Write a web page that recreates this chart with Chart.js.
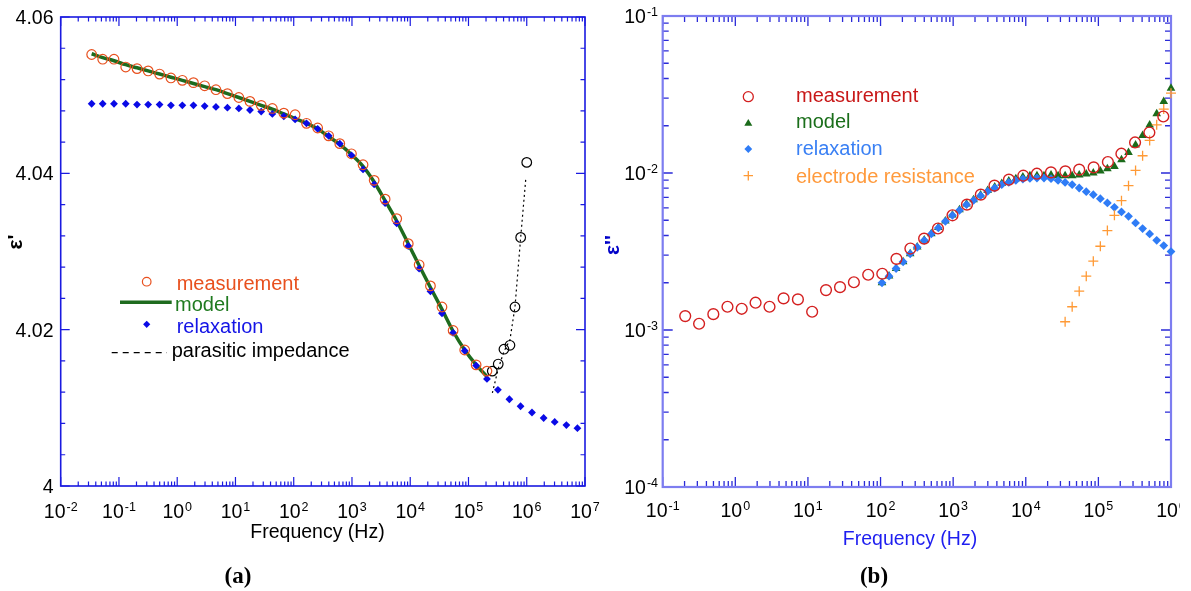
<!DOCTYPE html>
<html>
<head>
<meta charset="utf-8">
<script src="https://cdn.jsdelivr.net/npm/chart.js@4.4.1/dist/chart.umd.min.js"></script>
<style>
html, body { margin: 0; padding: 0; background: #fff; }
#wrap { position: relative; width: 1191px; height: 591px; overflow: hidden; }
.panel { position: absolute; top: 0; height: 591px; }
</style>
</head>
<body>
<div id="wrap">
  <div class="panel" style="left:0;width:620px"><canvas id="chartA"></canvas></div>
  <div class="panel" style="left:595px;width:585px"><canvas id="chartB"></canvas></div>
</div>
<script>
// measured frequencies (Hz), shared by both panels
const freqMeas = [0.0340, 0.0526, 0.0822, 0.1306, 0.2042, 0.317, 0.498, 0.780, 1.225, 1.901,
  2.958, 4.624, 7.278, 11.43, 17.74, 27.67, 42.95, 67.61, 105.7, 165.6,
  257.6, 398.1, 618.0, 979.5, 1549, 2404, 3707, 5861, 9247, 14220,
  22230, 35080, 54450, 86100, 135200, 207500, 319900, 503500, 783400];
const freqRelaxExtra = [1.23e6, 1.95e6, 3.02e6, 4.79e6, 7.41e6];

// (a) real part
const epsMeasA = [4.0552, 4.0546, 4.0546, 4.0536, 4.0534, 4.0531, 4.0527, 4.0522, 4.0519, 4.0516,
  4.0512, 4.0507, 4.0502, 4.0497, 4.0492, 4.0487, 4.0483, 4.0477, 4.0475, 4.0464,
  4.0458, 4.0448, 4.0438, 4.0425, 4.0411, 4.0391, 4.0367, 4.0342, 4.0310, 4.0283,
  4.0256, 4.0229, 4.0199, 4.0174, 4.0155, 4.0147];
const epsModelA = [4.0553, 4.0548, 4.0544, 4.0539, 4.0535, 4.0531, 4.0527, 4.0523, 4.0519, 4.0515,
  4.0511, 4.0507, 4.0502, 4.0497, 4.0492, 4.0487, 4.0482, 4.0476, 4.0470, 4.0464,
  4.0457, 4.0447, 4.0437, 4.0424, 4.0409, 4.0389, 4.0365, 4.0339, 4.0310, 4.0282,
  4.0254, 4.0226, 4.0198, 4.0174, 4.0155, 4.0140];
const epsRelaxA = [4.0489, 4.0489, 4.0489, 4.0489, 4.0488, 4.0488, 4.0488, 4.0487, 4.0487, 4.0487,
  4.0486, 4.0485, 4.0484, 4.0483, 4.0481, 4.0479, 4.0476, 4.0473, 4.0469, 4.0464,
  4.0457, 4.0448, 4.0438, 4.0423, 4.0405, 4.0386, 4.0362, 4.0336, 4.0307, 4.0278,
  4.0249, 4.0221, 4.0196, 4.0173, 4.0154, 4.0137, 4.0123, 4.0111, 4.0102, 4.0094,
  4.0087, 4.0082, 4.0078, 4.0074];
const freqPara = [2.56e5, 3.24e5, 4.06e5, 5.15e5, 6.28e5, 7.87e5, 1.0e6];
const epsParaMeas = [4.0147, 4.0156, 4.0175, 4.0180, 4.0229, 4.0318, 4.0414];
const freqParaLine = [2.57e5, 3.24e5, 4.06e5, 5.15e5, 6.28e5, 7.87e5, 9.6e5];
const epsParaLine = [4.0119, 4.0150, 4.0172, 4.0187, 4.0229, 4.0318, 4.0392];

// (b) imaginary part
const lossMeasB = [0.001226, 0.001096, 0.001262, 0.001406, 0.001365, 0.001492, 0.001406, 0.001589, 0.001566, 0.001307,
  0.001795, 0.001875, 0.002015, 0.002248, 0.002281, 0.002839, 0.003302, 0.003822, 0.004432, 0.005377,
  0.006288, 0.007278, 0.008304, 0.009066, 0.009612, 0.009898, 0.01009, 0.01024, 0.01050, 0.01085,
  0.01175, 0.01327, 0.01565, 0.01811, 0.02290];
const freqModelB = [104.7, 130.9, 163.7, 204.6, 255.9, 319.9, 399.9, 500.0, 625.2, 781.6,
  977.2, 1222, 1528, 1910, 2388, 2985, 3733, 4667, 5834, 7295,
  9120, 11400, 14260, 17820, 22280, 27860, 34830, 43550, 54450, 68080,
  85110, 106400, 133000, 166300, 208000, 260000, 325100, 406400, 508200, 635300,
  794300, 1.0e6];
const lossModelB = [0.002000, 0.002205, 0.002468, 0.002723, 0.003062, 0.003374, 0.003739, 0.004110, 0.004490, 0.004950,
  0.005410, 0.005826, 0.006340, 0.006760, 0.007250, 0.007735, 0.008145, 0.008570, 0.008890, 0.009190,
  0.009430, 0.009612, 0.009612, 0.009612, 0.009711, 0.009612, 0.009612, 0.009612, 0.009711, 0.009854,
  0.01000, 0.01030, 0.01065, 0.01101, 0.01215, 0.01352, 0.01507, 0.01734, 0.02019, 0.02382,
  0.02851, 0.03470];
const lossRelaxB = [0.001998, 0.002202, 0.002464, 0.002718, 0.003055, 0.003365, 0.003727, 0.004095, 0.004470, 0.004924,
  0.005377, 0.005784, 0.006288, 0.006695, 0.007171, 0.007638, 0.008028, 0.008426, 0.008715, 0.008974,
  0.009160, 0.009240, 0.009293, 0.009293, 0.009200, 0.008974, 0.008715, 0.008426, 0.008028, 0.007604,
  0.007278, 0.006866, 0.006447, 0.006043, 0.005649, 0.005298, 0.004810, 0.004424, 0.004095, 0.003727,
  0.003449, 0.003160];
const lossElecB = [0.001129, 0.001406, 0.001767, 0.002202, 0.002742, 0.003415, 0.004297, 0.005377, 0.006666, 0.008303,
  0.01039, 0.01288, 0.01612, 0.02028, 0.02552, 0.03226];

// tick labels
const xExpA = [-2, -1, 0, 1, 2, 3, 4, 5, 6, 7];
const yTicksA = [4, 4.02, 4.04, 4.06];
const xExpB = [-1, 0, 1, 2, 3, 4, 5, 6];
const yExpB = [-4, -3, -2, -1];

const FONT = '"Liberation Sans", Arial, sans-serif';
const SERIF = '"Liberation Serif", "Times New Roman", serif';
const OXB = 595; // left edge of panel (b) on the page

function pts(xs, ys) {
  return ys.map((y, i) => ({ x: xs[i], y: y }));
}

function logMinor(e0, e1) {
  const out = [];
  for (let e = e0; e < e1; e++) for (let k = 2; k <= 9; k++) out.push(k * Math.pow(10, e));
  return out;
}

function drawFrame(chart, cfg) {
  const { ctx, chartArea: a } = chart;
  const sx = chart.scales.x, sy = chart.scales.y;
  ctx.save();
  ctx.strokeStyle = cfg.tickColor;
  ctx.lineWidth = cfg.tickWidth;
  ctx.beginPath();
  const tx = (v, len) => {
    const p = sx.getPixelForValue(v);
    ctx.moveTo(p, a.bottom); ctx.lineTo(p, a.bottom - len);
    ctx.moveTo(p, a.top); ctx.lineTo(p, a.top + len);
  };
  const ty = (v, len) => {
    const p = sy.getPixelForValue(v);
    ctx.moveTo(a.left, p); ctx.lineTo(a.left + len, p);
    ctx.moveTo(a.right, p); ctx.lineTo(a.right - len, p);
  };
  cfg.xMajor.forEach(v => tx(v, cfg.major));
  cfg.xMinor.forEach(v => tx(v, cfg.minor));
  cfg.yMajor.forEach(v => ty(v, cfg.major));
  cfg.yMinor.forEach(v => ty(v, cfg.minor));
  ctx.stroke();
  ctx.strokeStyle = cfg.axisColor;
  ctx.lineWidth = cfg.axisWidth;
  ctx.strokeRect(a.left, a.top, a.right - a.left, a.bottom - a.top);
  ctx.restore();
}

// "10" with a raised exponent
function supLabel(ctx, exp, x, baseY, align) {
  ctx.font = '19.5px ' + FONT;
  const wb = ctx.measureText('10').width;
  ctx.font = '12.5px ' + FONT;
  const we = ctx.measureText(String(exp)).width;
  const x0 = align === 'right' ? x - wb - we - 1 : x - (wb + we + 1) / 2;
  ctx.textAlign = 'left';
  ctx.textBaseline = 'alphabetic';
  ctx.font = '19.5px ' + FONT;
  ctx.fillText('10', x0, baseY);
  ctx.font = '12.5px ' + FONT;
  ctx.fillText(String(exp), x0 + wb + 1, baseY - 7.5);
}

function marker(ctx, style, x, y, r, color, lw) {
  ctx.save();
  ctx.strokeStyle = color; ctx.fillStyle = color; ctx.lineWidth = lw || 1.2;
  ctx.beginPath();
  if (style === 'circle') { ctx.arc(x, y, r, 0, Math.PI * 2); ctx.stroke(); }
  else if (style === 'diamond') { ctx.moveTo(x, y - r); ctx.lineTo(x + r, y); ctx.lineTo(x, y + r); ctx.lineTo(x - r, y); ctx.closePath(); ctx.fill(); }
  else if (style === 'triangle') { ctx.moveTo(x, y - r); ctx.lineTo(x + r * 0.87, y + r * 0.5); ctx.lineTo(x - r * 0.87, y + r * 0.5); ctx.closePath(); ctx.fill(); }
  else if (style === 'plus') { ctx.moveTo(x - r, y); ctx.lineTo(x + r, y); ctx.moveTo(x, y - r); ctx.lineTo(x, y + r); ctx.stroke(); }
  ctx.restore();
}

function yMinorA() {
  const out = [];
  for (let i = 1; i < 15; i++) if (i % 5 !== 0) out.push(4 + i * 0.004);
  return out;
}

const framePluginA = {
  id: 'frameA',
  beforeDatasetsDraw(chart) {
    drawFrame(chart, {
      tickColor: '#1a1ae0', tickWidth: 1.2, axisColor: '#1a1ae0', axisWidth: 1.6,
      major: 9, minor: 4.5,
      xMajor: xExpA.map(e => Math.pow(10, e)), xMinor: logMinor(-2, 7),
      yMajor: yTicksA, yMinor: yMinorA()
    });
  },
  afterDraw(chart) {
    const ctx = chart.ctx, sx = chart.scales.x, sy = chart.scales.y;
    ctx.save();
    ctx.fillStyle = '#000';
    xExpA.forEach(e => supLabel(ctx, e, sx.getPixelForValue(Math.pow(10, e)), 518, 'center'));
    ctx.font = '19.5px ' + FONT;
    ctx.textAlign = 'right';
    ctx.textBaseline = 'alphabetic';
    yTicksA.forEach(v => ctx.fillText(v === 4 ? '4' : v.toFixed(2), 53.5, sy.getPixelForValue(v) + 7));
    ctx.textAlign = 'center';
    ctx.fillText('Frequency (Hz)', 317.5, 538);
    ctx.font = 'bold 23px ' + SERIF;
    ctx.textBaseline = 'middle';
    ctx.fillText('(a)', 238, 577);
    ctx.save();
    ctx.translate(16, 242);
    ctx.rotate(-Math.PI / 2);
    ctx.font = 'bold 21px ' + FONT;
    ctx.fillText("\u03b5'", 0, 0);
    ctx.restore();
    // legend
    ctx.textAlign = 'left';
    ctx.textBaseline = 'alphabetic';
    ctx.font = '20px ' + FONT;
    marker(ctx, 'circle', 146.7, 281.7, 4.3, '#e8501e', 1.2);
    ctx.fillStyle = '#e8501e'; ctx.fillText('measurement', 176.7, 290);
    ctx.strokeStyle = '#1e6b1e'; ctx.lineWidth = 3.5;
    ctx.beginPath(); ctx.moveTo(120, 302.3); ctx.lineTo(171.7, 302.3); ctx.stroke();
    ctx.fillStyle = '#1f7a1f'; ctx.fillText('model', 175, 310.5);
    marker(ctx, 'diamond', 146.7, 324.3, 3.6, '#0a0ae6');
    ctx.fillStyle = '#1414e6'; ctx.fillText('relaxation', 176.7, 333);
    ctx.strokeStyle = '#000'; ctx.lineWidth = 1.3; ctx.setLineDash([6, 5]);
    ctx.beginPath(); ctx.moveTo(111.7, 352.7); ctx.lineTo(167, 352.7); ctx.stroke();
    ctx.setLineDash([]);
    ctx.fillStyle = '#000'; ctx.fillText('parasitic impedance', 171.7, 356.5);
    ctx.restore();
  }
};

const framePluginB = {
  id: 'frameB',
  beforeDatasetsDraw(chart) {
    drawFrame(chart, {
      tickColor: '#2a2ad8', tickWidth: 1.3, axisColor: '#7d7df0', axisWidth: 2.2,
      major: 10, minor: 6,
      xMajor: xExpB.map(e => Math.pow(10, e)), xMinor: logMinor(-1, 6),
      yMajor: yExpB.map(e => Math.pow(10, e)), yMinor: logMinor(-4, -1)
    });
  },
  afterDraw(chart) {
    const ctx = chart.ctx, sx = chart.scales.x, sy = chart.scales.y;
    ctx.save();
    ctx.fillStyle = '#000';
    xExpB.forEach(e => supLabel(ctx, e, sx.getPixelForValue(Math.pow(10, e)), 517, 'center'));
    yExpB.forEach(e => supLabel(ctx, e, 658 - OXB, sy.getPixelForValue(Math.pow(10, e)) + 7, 'right'));
    ctx.font = '19.5px ' + FONT;
    ctx.textAlign = 'center';
    ctx.textBaseline = 'alphabetic';
    ctx.fillStyle = '#1e1ef0';
    ctx.fillText('Frequency (Hz)', 910 - OXB, 545);
    ctx.fillStyle = '#000';
    ctx.font = 'bold 23px ' + SERIF;
    ctx.textBaseline = 'middle';
    ctx.fillText('(b)', 874 - OXB, 577);
    ctx.save();
    ctx.translate(613 - OXB, 245);
    ctx.rotate(-Math.PI / 2);
    ctx.font = 'bold 21px ' + FONT;
    ctx.fillStyle = '#0000c8';
    ctx.fillText("\u03b5''", 0, 0);
    ctx.restore();
    // legend
    ctx.textAlign = 'left';
    ctx.textBaseline = 'alphabetic';
    ctx.font = '20px ' + FONT;
    const lx = 748.3 - OXB, tx = 796 - OXB;
    marker(ctx, 'circle', lx, 96.7, 5, '#d42020', 1.3);
    ctx.fillStyle = '#c81818'; ctx.fillText('measurement', tx, 101.7);
    marker(ctx, 'triangle', lx, 123.5, 4.6, '#1b6b1b');
    ctx.fillStyle = '#1a6e1a'; ctx.fillText('model', tx, 128);
    marker(ctx, 'diamond', lx, 149, 3.9, '#2f7cf6');
    ctx.fillStyle = '#3a80f4'; ctx.fillText('relaxation', tx, 155);
    marker(ctx, 'plus', lx, 175.7, 4.7, '#ff9a36', 1.3);
    ctx.fillStyle = '#ff9a3c'; ctx.fillText('electrode resistance', tx, 183);
    ctx.restore();
  }
};

const baseOptions = (pad, xMin, xMax, yType, yMin, yMax) => ({
  responsive: true,
  maintainAspectRatio: false,
  animation: false,
  layout: { padding: pad },
  plugins: { legend: { display: false }, tooltip: { enabled: false } },
  scales: {
    x: { type: 'logarithmic', min: xMin, max: xMax, display: false },
    y: { type: yType, min: yMin, max: yMax, display: false }
  }
});

// Panel (a): epsilon'
new Chart(document.getElementById('chartA'), {
  type: 'scatter',
  data: {
    datasets: [
      { label: 'measurement', data: pts(freqMeas.slice(0, 36), epsMeasA), pointStyle: 'circle', pointRadius: 4.8,
        borderColor: '#e8501e', backgroundColor: 'rgba(0,0,0,0)', borderWidth: 1.2, clip: false },
      { label: 'parasitic points', data: pts(freqPara, epsParaMeas), pointStyle: 'circle', pointRadius: 4.8,
        borderColor: '#000', backgroundColor: 'rgba(0,0,0,0)', borderWidth: 1.2, clip: false },
      { label: 'relaxation', data: pts(freqMeas.concat(freqRelaxExtra), epsRelaxA), pointStyle: 'rectRot', pointRadius: 3.9,
        borderWidth: 0, backgroundColor: '#0a0ae6', clip: false },
      { label: 'parasitic impedance', data: pts(freqParaLine, epsParaLine), showLine: true, pointRadius: 0,
        borderColor: '#000', borderWidth: 1.2, borderDash: [2, 3], tension: 0 },
      { label: 'model', data: pts(freqMeas.slice(0, 36), epsModelA), showLine: true, pointRadius: 0,
        borderColor: '#1e6b1e', borderWidth: 3.5, cubicInterpolationMode: 'monotone' }
    ]
  },
  options: baseOptions({ left: 60.7, right: 35, top: 17, bottom: 105 }, 0.01, 1e7, 'linear', 4, 4.06),
  plugins: [framePluginA]
});

// Panel (b): epsilon''
new Chart(document.getElementById('chartB'), {
  type: 'scatter',
  data: {
    datasets: [
      { label: 'measurement', data: pts(freqMeas.slice(4), lossMeasB), pointStyle: 'circle', pointRadius: 5.4,
        borderColor: '#d42020', backgroundColor: 'rgba(0,0,0,0)', borderWidth: 1.4, clip: false },
      { label: 'electrode resistance', data: pts(freqModelB.slice(26), lossElecB), pointStyle: 'cross', pointRadius: 5,
        borderColor: '#ff9a36', borderWidth: 1.3, clip: false },
      { label: 'relaxation', data: pts(freqModelB, lossRelaxB), pointStyle: 'rectRot', pointRadius: 4.4,
        borderWidth: 0, backgroundColor: '#2f7cf6', clip: false },
      { label: 'model', data: pts(freqModelB, lossModelB), pointStyle: 'triangle', pointRadius: 5,
        borderWidth: 0, backgroundColor: '#1b6b1b', clip: false }
    ]
  },
  options: baseOptions({ left: 662.7 - OXB, right: 9, top: 16, bottom: 104 }, 0.1, 1e6, 'logarithmic', 1e-4, 0.1),
  plugins: [framePluginB]
});
</script>
</body>
</html>
